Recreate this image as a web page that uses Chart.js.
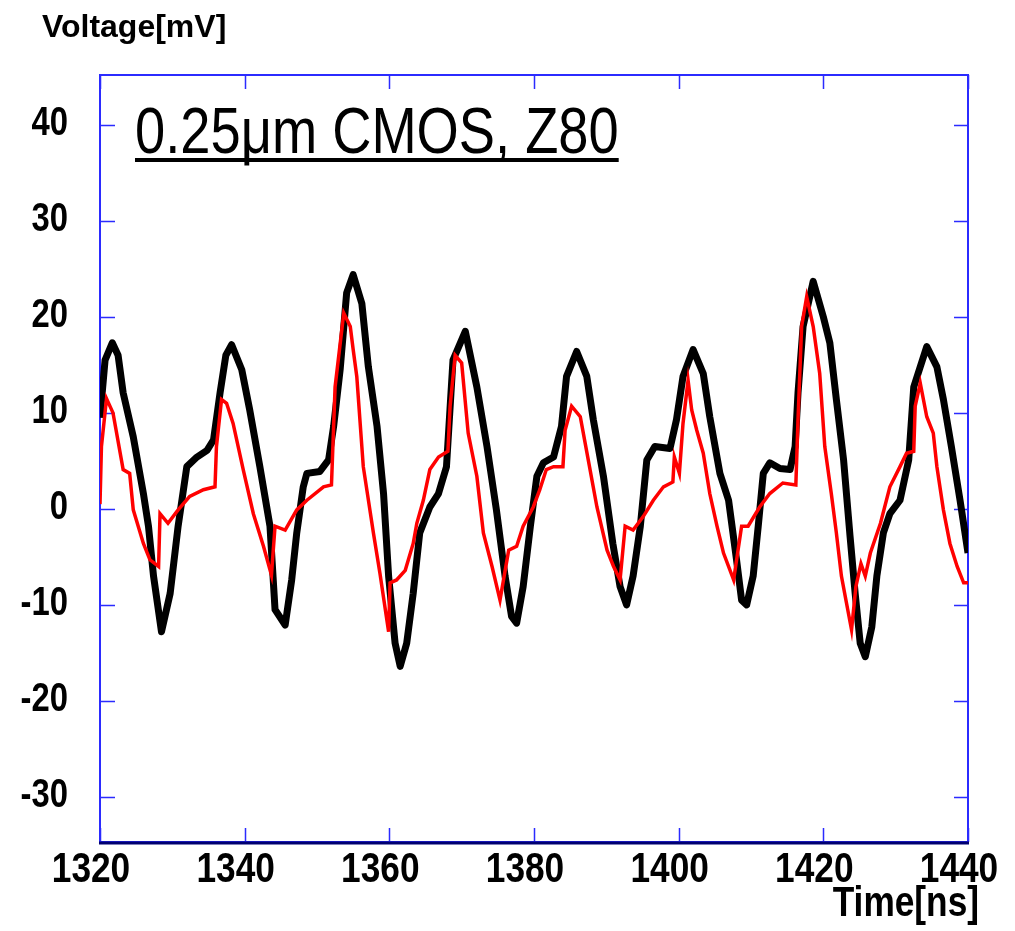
<!DOCTYPE html>
<html>
<head>
<meta charset="utf-8">
<title>Voltage vs Time</title>
<script src="https://cdn.jsdelivr.net/npm/chart.js@4.4.1/dist/chart.umd.min.js"></script>
<style>
  html, body { margin: 0; padding: 0; background: #fff; }
  canvas { display: block; }
</style>
</head>
<body>
<canvas id="voltageChart" width="1015" height="931"></canvas>
<script>
// Tick values for both axes
const xTicks = [1320, 1340, 1360, 1380, 1400, 1420, 1440];
const yTicks = [-30, -20, -10, 0, 10, 20, 30, 40];

// Black trace (measured)
const blackTime = [1320, 1320.7, 1321.7, 1322.5, 1323.2, 1324.6, 1326, 1326.7, 1327.4, 1328.5, 1329.7, 1330.8, 1332, 1333.4, 1334.8, 1335.7, 1336.6, 1337.4, 1338.2, 1339.6,
  1340.7, 1342.1, 1343.5, 1344.2, 1345.6, 1346.5, 1347.2, 1348.1, 1348.6, 1350.4, 1351.6, 1352.3, 1353.2, 1354.1, 1355, 1356.2, 1357.1, 1358.3, 1359.2, 1359.9,
  1360.8, 1361.5, 1362.4, 1363.3, 1364.2, 1365.6, 1366.8, 1367.9, 1368.8, 1370.5, 1372.1, 1373.5, 1374.8, 1376, 1376.9, 1377.6, 1378.5, 1379.5,
  1380.4, 1381.3, 1382.7, 1383.8, 1384.5, 1385.9, 1387.3, 1388.2, 1389.6, 1390.9, 1391.9, 1392.8, 1393.7, 1394.7, 1395.6, 1396.7, 1398.8, 1399.7,
  1400.6, 1402, 1403.4, 1404.3, 1405.7, 1406.9, 1408, 1408.7, 1409.4, 1410.3, 1411, 1411.7, 1412.6, 1414, 1415.4, 1416.1, 1416.5, 1417.2, 1418.6,
  1420, 1420.9, 1421.8, 1422.8, 1423.7, 1424.4, 1425.1, 1425.8, 1426.7, 1427.4, 1428.3, 1429.2, 1430.6, 1431.8, 1432.5, 1434.3, 1435.7, 1436.6, 1437.7, 1438.9, 1440];
const blackVolt = [9.5, 15.5, 17.3, 16, 12.1, 7.5, 1.6, -1.8, -7.0, -12.8, -8.8, -1.8, 4.4, 5.4, 6.1, 7.2, 12.1, 16, 17.1, 14.5,
  10.3, 4.4, -1.8, -10.5, -12.1, -7.4, -2.5, 2.3, 3.7, 3.9, 5.1, 8.6, 14.5, 22.5, 24.4, 21.4, 14.8, 8.6, 1.6, -7.0,
  -14, -16.4, -14, -8.8, -2.5, 0.2, 1.6, 4.4, 15.5, 18.5, 12.7, 6.5, -0.1, -7.0, -11.2, -11.9, -8.1, -1.8,
  3.4, 4.8, 5.4, 8.6, 13.8, 16.4, 13.8, 9.3, 3.4, -3.6, -8.1, -10, -7.0, -1.8, 5.1, 6.5, 6.3, 9.3,
  13.8, 16.6, 14.1, 9.6, 3.7, 0.9, -5.3, -9.5, -10, -7.0, -1.8, 3.7, 4.8, 4.2, 4.1, 6.5, 12.1, 19, 23.7,
  20, 17.3, 11.4, 5.1, -2.9, -8.8, -14, -15.4, -12.3, -7.0, -2.5, -0.5, 0.9, 5.1, 12.7, 16.9, 14.8, 11.4, 6.5, 0.9, -4.6];

// Red trace (simulated)
const redTime = [1320, 1320.2, 1320.9, 1321.8, 1323.2, 1324.1, 1324.6, 1326, 1326.9, 1328.1, 1328.3, 1329.4, 1330.8, 1332.4, 1334.3, 1335.9, 1336.1, 1336.8, 1337.5, 1338.4, 1339.8,
  1341.2, 1342.6, 1343.7, 1344.2, 1345.6, 1347.2, 1348.6, 1350.9, 1352, 1352.5, 1353.7, 1354.6, 1355, 1355.5, 1356.4, 1357.8, 1358.7, 1359.9,
  1360.1, 1361, 1362.2, 1363.3, 1363.8, 1364.7, 1365.6, 1366.8, 1368.1, 1368.4, 1369.1, 1370, 1370.9, 1372.1, 1373, 1374.2, 1375.3, 1376.5, 1377.6, 1378.5, 1379.9,
  1380.8, 1381.7, 1382.7, 1384, 1384.3, 1385.2, 1386.4, 1387.5, 1388.7, 1390.1, 1391, 1391.9, 1392.6, 1393.7, 1395.1, 1396.5, 1397.9, 1399.2, 1399.4,
  1400.1, 1400.6, 1401.3, 1401.8, 1402.5, 1403.4, 1404.3, 1405.3, 1406.2, 1407.6, 1408.7, 1409.6, 1411.2, 1412.6, 1414.4, 1416.2, 1416.5, 1417, 1417.7, 1418.6, 1419.5,
  1420.2, 1421.1, 1421.8, 1422.5, 1423.2, 1423.9, 1424.5, 1425.2, 1425.8, 1426.5, 1427.9, 1429.2, 1430.6, 1431.5, 1432.5, 1432.7, 1433.4, 1434.3, 1435.2, 1435.7,
  1436.6, 1437.5, 1438.5, 1439.4, 1440];
const redVolt = [0.5, 6.5, 11.5, 10, 4.1, 3.7, -0.1, -3.6, -5.3, -6.0, -0.5, -1.5, -0.1, 1.3, 2.0, 2.3, 6.5, 11.4, 11, 8.9, 4.1,
  -0.5, -3.9, -6.9, -1.8, -2.2, -0.1, 0.9, 2.3, 2.5, 12.7, 20.4, 19, 16.6, 13.8, 4.4, -2.5, -6.7, -12.8,
  -7.7, -7.4, -6.4, -3.6, -1.5, 0.9, 4.1, 5.4, 6.0, 10.7, 16, 15.2, 7.9, 3.4, -2.5, -6.0, -9.5, -4.3, -3.9, -1.8, 0.2,
  2.0, 4.1, 4.4, 4.4, 8.2, 10.7, 9.6, 5.1, 0.2, -4.3, -6.0, -7.4, -1.8, -2.2, -0.8, 0.9, 2.3, 2.8, 5.4,
  3.7, 8.9, 13.4, 10.3, 8.2, 5.8, 1.6, -1.8, -4.6, -7.4, -1.8, -1.8, 0.2, 1.6, 2.7, 2.5, 9.3, 19, 22.1, 19, 14.1,
  6.5, 1.6, -2.5, -7.0, -9.8, -12.6, -8.1, -5.7, -7.0, -4.6, -1.5, 2.3, 4.4, 5.8, 6.0, 10.7, 13.1, 9.6, 7.9, 4.4,
  -0.1, -3.6, -6.0, -7.7, -7.7];

const SANS = "'Liberation Sans', Arial, sans-serif";
const FRAME_BLUE = '#2b2bff';
const NARROW_SCALE = 0.82; // squeeze Arial metrics to look like Arial Narrow

function toPoints(times, values) {
    return times.map((t, i) => ({ x: t, y: values[i] }));
}

// draw horizontally condensed text
function narrowText(ctx, text, x, y, align, font, sx = NARROW_SCALE) {
    ctx.save();
    ctx.font = font;
    ctx.textAlign = align;
    ctx.textBaseline = 'alphabetic';
    ctx.translate(x, y);
    ctx.scale(sx, 1);
    ctx.fillText(text, 0, 0);
    const w = ctx.measureText(text).width * sx;
    ctx.restore();
    return w;
}

// Frame, inward ticks, tick labels and loose text
const framePlugin = {
    id: 'frame',
    beforeDatasetsDraw(chart) {
        const { ctx, chartArea: a, scales: { x, y } } = chart;
        ctx.save();
        ctx.strokeStyle = FRAME_BLUE;
        ctx.lineWidth = 2;
        ctx.strokeRect(a.left, a.top, a.right - a.left, a.bottom - a.top);

        ctx.beginPath();
        xTicks.forEach(v => {
            const px = Math.round(x.getPixelForValue(v)) + 0.5;
            ctx.moveTo(px, a.bottom); ctx.lineTo(px, a.bottom - 14);
            ctx.moveTo(px, a.top); ctx.lineTo(px, a.top + 14);
        });
        yTicks.forEach(v => {
            const py = Math.round(y.getPixelForValue(v)) + 0.5;
            ctx.moveTo(a.left, py); ctx.lineTo(a.left + 15, py);
            ctx.moveTo(a.right, py); ctx.lineTo(a.right - 14, py);
        });
        ctx.lineWidth = 1.5;
        ctx.stroke();

        // darker bottom axis line
        ctx.strokeStyle = '#000070';
        ctx.lineWidth = 3;
        ctx.beginPath();
        ctx.moveTo(a.left - 1, a.bottom + 1);
        ctx.lineTo(a.right + 1, a.bottom + 1);
        ctx.stroke();
        ctx.restore();
    },
    afterDraw(chart) {
        const { ctx, scales: { x, y } } = chart;
        ctx.save();
        ctx.fillStyle = '#000';

        // tick labels (x labels sit a little left of their ticks in the original)
        xTicks.forEach(v => {
            narrowText(ctx, String(v), x.getPixelForValue(v) - 9, 882, 'center', 'bold 43px ' + SANS);
        });
        yTicks.forEach(v => {
            narrowText(ctx, String(v), 68, y.getPixelForValue(v) + 10, 'right', 'bold 40px ' + SANS);
        });

        // axis titles
        ctx.font = 'bold 32px ' + SANS;
        ctx.textAlign = 'left';
        ctx.textBaseline = 'alphabetic';
        ctx.fillText('Voltage[mV]', 42, 37);
        narrowText(ctx, 'Time[ns]', 979, 916, 'right', 'bold 43px ' + SANS);

        // underlined caption
        const w = narrowText(ctx, '0.25μm CMOS, Z80', 135, 153, 'left', '65px ' + SANS, 0.835);
        ctx.fillRect(135, 158, w, 4);
        ctx.restore();
    }
};

document.addEventListener('DOMContentLoaded', () => {
    const ctx = document.getElementById('voltageChart');
    new Chart(ctx, {
        type: 'line',
        data: {
            datasets: [{
                label: 'Simulation',
                data: toPoints(redTime, redVolt),
                borderColor: '#ff0000',
                borderWidth: 3.5,
                pointRadius: 0,
                tension: 0
            }, {
                label: 'Measurement',
                data: toPoints(blackTime, blackVolt),
                borderColor: '#000000',
                borderWidth: 7,
                pointRadius: 0,
                tension: 0,
                borderJoinStyle: 'round'
            }]
        },
        options: {
            responsive: false,
            animation: false,
            devicePixelRatio: 1,
            layout: { padding: { top: 75, right: 47, left: 0, bottom: 0 } },
            plugins: {
                legend: { display: false },
                tooltip: { enabled: false }
            },
            scales: {
                x: {
                    type: 'linear',
                    min: 1320,
                    max: 1440,
                    afterFit: s => { s.height = 89; },
                    afterBuildTicks: s => { s.ticks = xTicks.map(v => ({ value: v })); },
                    grid: { display: false },
                    border: { display: false },
                    ticks: { display: false }
                },
                y: {
                    type: 'linear',
                    min: -34.7,
                    max: 45.2,
                    afterFit: s => { s.width = 100; },
                    afterBuildTicks: s => { s.ticks = yTicks.map(v => ({ value: v })); },
                    grid: { display: false },
                    border: { display: false },
                    ticks: { display: false }
                }
            }
        },
        plugins: [framePlugin]
    });
});
</script>
</body>
</html>
